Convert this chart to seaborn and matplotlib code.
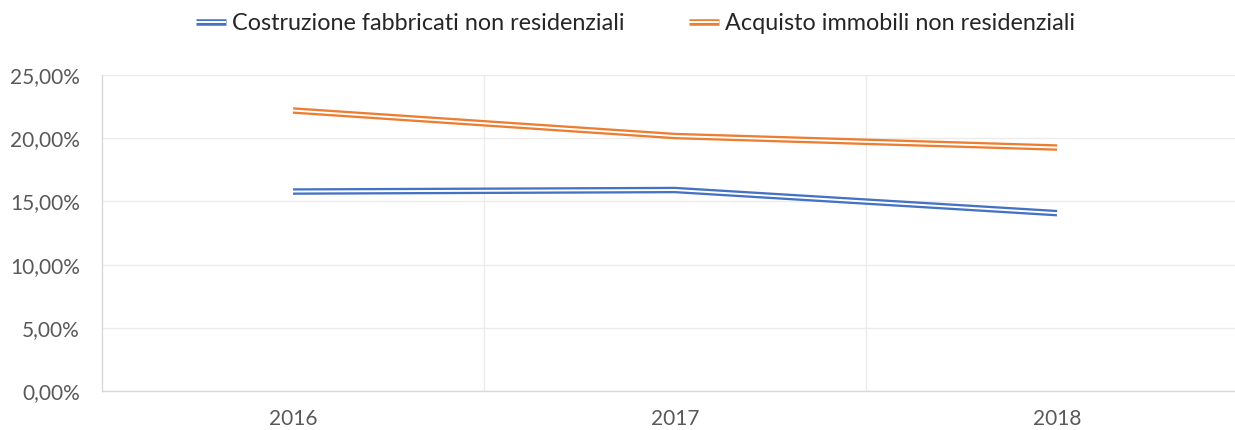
import matplotlib
matplotlib.use("Agg")
import matplotlib.pyplot as plt
import matplotlib.patheffects as pe
import seaborn as sns
import pandas as pd
from matplotlib.lines import Line2D
from matplotlib.ticker import FuncFormatter, FixedLocator

years = ["2016", "2017", "2018"]
costruzione = [15.78, 15.90, 14.07]
acquisto = [22.19, 20.17, 19.26]
series_names = ["Costruzione fabbricati non residenziali", "Acquisto immobili non residenziali"]
colors = ["#4472C4", "#ED7D31"]

df = pd.DataFrame({
    "anno": years * 2,
    "valore": costruzione + acquisto,
    "serie": [series_names[0]] * 3 + [series_names[1]] * 3,
})
df["x"] = df["anno"].map({y: i for i, y in enumerate(years)})

sns.set_theme(style="white")
plt.rcParams["font.family"] = ["Lato", "DejaVu Sans"]
text_color = "#595959"

fig = plt.figure(figsize=(12.35, 4.3), dpi=100)
ax = fig.add_axes([0.0826, 0.0907, 0.928, 0.7349])

# double-stroke lines: a wide coloured stroke with a thin white core
outer_lw = 4.7
inner_lw = 1.4
sns.lineplot(data=df, x="x", y="valore", hue="serie", palette=colors,
             hue_order=series_names, linewidth=outer_lw, legend=False, ax=ax,
             solid_capstyle="butt", solid_joinstyle="round")
sns.lineplot(data=df, x="x", y="valore", hue="serie", palette=["white", "white"],
             hue_order=series_names, linewidth=inner_lw, legend=False, ax=ax,
             solid_capstyle="butt", solid_joinstyle="round")

ax.set_xlim(-0.5, 2.5)
ax.set_ylim(0, 25)
ax.set_xticks(range(len(years)))
ax.set_xticklabels(years)
ax.xaxis.set_minor_locator(FixedLocator([0.5, 1.5]))
ax.set_yticks([0, 5, 10, 15, 20, 25])
ax.yaxis.set_major_formatter(FuncFormatter(lambda v, p: f"{v:.2f}".replace(".", ",") + "%"))
ax.set_xlabel("")
ax.set_ylabel("")

ax.grid(axis="y", which="major", color="#EBEBEB", linewidth=1.0)
ax.grid(axis="x", which="minor", color="#EBEBEB", linewidth=1.0)
ax.grid(axis="x", which="major", visible=False)
ax.set_axisbelow(True)
for side in ["top", "right"]:
    ax.spines[side].set_visible(False)
for side in ["left", "bottom"]:
    ax.spines[side].set_color("#D9D9D9")
    ax.spines[side].set_linewidth(1.0)

ax.tick_params(axis="both", which="both", length=0, labelsize=15, colors=text_color)
ax.tick_params(axis="x", pad=13)
ax.tick_params(axis="y", pad=16)

handles = [
    Line2D([], [], color="white", linewidth=inner_lw, solid_capstyle="butt",
           path_effects=[pe.Stroke(linewidth=outer_lw, foreground=c, capstyle="butt"), pe.Normal()])
    for c in colors
]
fig.legend(handles, series_names, loc="center", bbox_to_anchor=(0.5145, 0.945), ncol=2,
           frameon=False, fontsize=16.8, labelcolor="#262626", handlelength=1.3,
           handletextpad=0.25, columnspacing=2.75)

fig.savefig("out.png", dpi=100)
